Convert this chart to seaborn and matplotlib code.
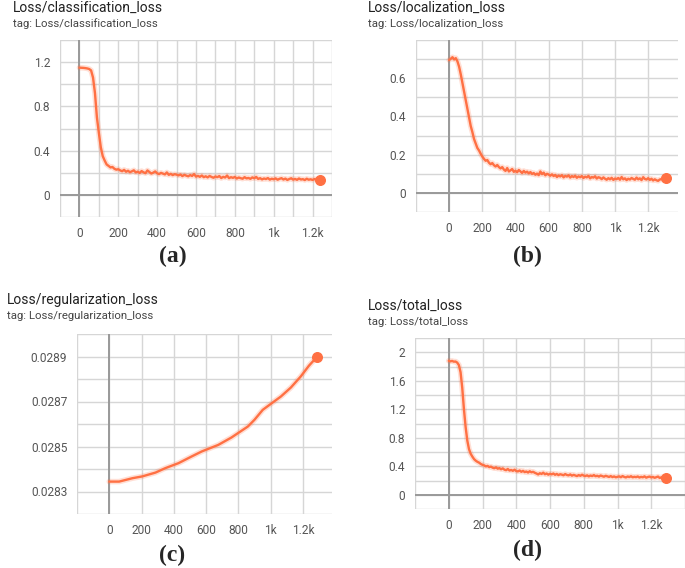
import numpy as np
import matplotlib.pyplot as plt
import seaborn as sns

# TensorBoard scalar curves
cls_steps = list(range(0, 1250, 10))
cls_loss = [
    1.150, 1.149, 1.148, 1.146, 1.143, 1.138, 1.125,
    1.06, 0.92, 0.70, 0.56, 0.43, 0.35, 0.31,
    0.275, 0.262, 0.248, 0.252, 0.236, 0.228, 0.232,
    0.221, 0.214, 0.226, 0.209, 0.218, 0.205, 0.213, 0.222, 0.203, 0.210,
    0.198, 0.215, 0.204, 0.196, 0.221, 0.207, 0.193, 0.201, 0.212, 0.195,
    0.188, 0.199, 0.192, 0.185, 0.203, 0.181, 0.190, 0.179, 0.187, 0.183,
    0.176, 0.184, 0.170, 0.181, 0.174, 0.168, 0.179, 0.171, 0.188, 0.165,
    0.172, 0.163, 0.175, 0.160, 0.168, 0.158, 0.171, 0.162, 0.155, 0.166,
    0.160, 0.170, 0.152, 0.163, 0.157, 0.175, 0.151, 0.160, 0.154, 0.162,
    0.148, 0.157, 0.151, 0.146, 0.160, 0.149, 0.153, 0.145, 0.158, 0.150,
    0.162, 0.144, 0.151, 0.140, 0.148, 0.143, 0.152, 0.138, 0.146, 0.141,
    0.149, 0.137, 0.145, 0.151, 0.139, 0.147, 0.135, 0.143, 0.150, 0.138,
    0.144, 0.136, 0.148, 0.139, 0.142, 0.134, 0.146, 0.137, 0.141, 0.135,
    0.143, 0.136, 0.140, 0.138,
]

loc_steps = list(range(0, 1320, 10))
loc_loss = [
    0.695, 0.702, 0.710, 0.698, 0.705, 0.688, 0.660,
    0.620, 0.575, 0.530, 0.485, 0.440, 0.395, 0.350,
    0.318, 0.282, 0.258, 0.235, 0.222, 0.205, 0.190,
    0.178, 0.168, 0.172, 0.158, 0.150, 0.156, 0.145, 0.138, 0.146, 0.135,
    0.128, 0.135, 0.122, 0.115, 0.130, 0.112, 0.118, 0.125, 0.110, 0.116,
    0.108, 0.120, 0.112, 0.104, 0.115, 0.106, 0.111, 0.102, 0.109, 0.099,
    0.104, 0.095, 0.101, 0.093, 0.112, 0.098, 0.106, 0.092, 0.100, 0.096,
    0.090, 0.097, 0.088, 0.094, 0.083, 0.091, 0.086, 0.093, 0.081, 0.089,
    0.085, 0.092, 0.080, 0.088, 0.083, 0.090, 0.079, 0.086, 0.082, 0.088,
    0.078, 0.085, 0.081, 0.089, 0.076, 0.083, 0.080, 0.087, 0.075, 0.082,
    0.079, 0.072, 0.081, 0.074, 0.069, 0.077, 0.071, 0.079, 0.068, 0.075,
    0.072, 0.078, 0.069, 0.083, 0.071, 0.076, 0.067, 0.074, 0.070, 0.078,
    0.073, 0.069, 0.080, 0.071, 0.076, 0.067, 0.082, 0.073, 0.070, 0.077,
    0.068, 0.074, 0.065, 0.071, 0.066, 0.063, 0.070, 0.072, 0.068, 0.075, 0.078,
]

reg_steps = [0, 61, 143, 204, 286, 348, 429, 511, 573, 675, 757, 859,
             900, 951, 1002, 1063, 1125, 1186, 1237, 1284]
reg_loss = [0.028344, 0.028344, 0.028359, 0.028367, 0.028384, 0.028404,
            0.028426, 0.028456, 0.028478, 0.028507, 0.028540, 0.028589,
            0.028619, 0.028663, 0.028690, 0.028722, 0.028762, 0.028811,
            0.028859, 0.028896]

tot_steps = list(range(0, 1300, 10))
tot_loss = [
    1.880, 1.872, 1.878, 1.868, 1.870, 1.855, 1.820,
    1.720, 1.500, 1.200, 0.950, 0.760, 0.640, 0.575,
    0.535, 0.500, 0.478, 0.462, 0.450, 0.432, 0.420,
    0.412, 0.398, 0.405, 0.388, 0.395, 0.380, 0.372, 0.385, 0.366, 0.374,
    0.358, 0.370, 0.352, 0.345, 0.362, 0.340, 0.348, 0.336, 0.352, 0.332,
    0.328, 0.340, 0.322, 0.335, 0.318, 0.326, 0.312, 0.330, 0.315, 0.322,
    0.308, 0.298, 0.285, 0.302, 0.292, 0.310, 0.288, 0.298, 0.282, 0.295,
    0.286, 0.298, 0.280, 0.292, 0.276, 0.288, 0.282, 0.274, 0.290, 0.278,
    0.272, 0.285, 0.268, 0.279, 0.270, 0.262, 0.276, 0.266, 0.281, 0.268,
    0.263, 0.272, 0.258, 0.270, 0.262, 0.276, 0.260, 0.267, 0.255, 0.270,
    0.262, 0.253, 0.266, 0.258, 0.250, 0.262, 0.248, 0.257, 0.245, 0.252,
    0.258, 0.246, 0.262, 0.250, 0.243, 0.256, 0.248, 0.260, 0.245, 0.252,
    0.247, 0.256, 0.242, 0.251, 0.245, 0.258, 0.240, 0.249, 0.255, 0.243,
    0.250, 0.238, 0.247, 0.255, 0.236, 0.244, 0.252, 0.240, 0.232,
]

x_labels = {0: "0", 200: "200", 400: "400", 600: "600", 800: "800",
            1000: "1k", 1200: "1.2k"}

ORANGE = "#ff7043"
W, H = 685, 568

sns.set_style("white")
plt.rcParams['font.family'] = ['Roboto', 'DejaVu Sans']

fig = plt.figure(figsize=(W / 100, H / 100), dpi=100)


def px(x, y):
    return x / W, 1 - y / H


def panel(l, t, r, b, steps, vals, xlim, xstep, ylim, ystep, ylab, yfmt,
          name, title_xy, letter, letter_xy, zero_h=True):
    ax = fig.add_axes([l / W, 1 - b / H, (r - l) / W, (b - t) / H])
    # faint raw band + smoothed line, TensorBoard style
    sns.lineplot(x=steps, y=vals, ax=ax, color=ORANGE, lw=4, alpha=0.22)
    sns.lineplot(x=steps, y=vals, ax=ax, color=ORANGE, lw=1.7)
    ax.scatter([steps[-1]], [vals[-1]], s=48, color=ORANGE, zorder=5)

    xt = np.arange(xlim[0], xlim[1] + 1, xstep)
    ax.set_xticks(xt)
    ax.set_xticklabels([x_labels.get(int(v), "") for v in xt])
    yt = np.round(np.arange(ylim[0], ylim[1] + ystep / 2, ystep), 6)
    ax.set_yticks(yt)
    ax.set_yticklabels([yfmt(v) if any(abs(v - w) < ystep / 10 for w in ylab)
                        else "" for v in yt])
    ax.set_xlim(xlim)
    ax.set_ylim(ylim)
    ax.grid(True, color="#d6d6d6", lw=1.0)
    for s in ax.spines.values():
        s.set_visible(False)
    ax.axvline(0, color="#999999", lw=1.4, zorder=1)
    if zero_h:
        ax.axhline(0, color="#999999", lw=1.4, zorder=1)
    ax.tick_params(axis="x", length=3, color="#cccccc", labelsize=8.6,
                   labelcolor="#555555", pad=4)
    ax.tick_params(axis="y", length=0, labelsize=8.6, labelcolor="#555555",
                   pad=7)
    ax.set_xlabel("")
    ax.set_ylabel("")

    fig.text(*px(*title_xy), name, fontsize=10, color="#212121",
             ha="left", va="center")
    fig.text(*px(title_xy[0], title_xy[1] + 16), "tag: " + name, fontsize=8.2,
             color="#444444", ha="left", va="center")
    fig.text(*px(*letter_xy), letter, fontsize=17, fontweight="bold",
             family="Liberation Serif", ha="center", va="center")
    return ax


def fmt_short(v):
    return "0" if abs(v) < 1e-9 else ("%g" % v)


panel(60, 40, 332, 217, cls_steps, cls_loss, (-100, 1300), 100,
      (-0.2, 1.4), 0.2, [0, 0.4, 0.8, 1.2], fmt_short,
      "Loss/classification_loss", (13, 8), "(a)", (173, 256))

panel(416, 40, 678, 212, loc_steps, loc_loss, (-200, 1380), 200,
      (-0.1, 0.8), 0.1, [0, 0.2, 0.4, 0.6], fmt_short,
      "Loss/localization_loss", (368, 8), "(b)", (527, 256))

panel(77, 334, 332, 514, reg_steps, reg_loss, (-200, 1380), 200,
      (0.0282, 0.0290), 0.0001, [0.0283, 0.0285, 0.0287, 0.0289],
      lambda v: "%.4f" % v,
      "Loss/regularization_loss", (7, 300), "(c)", (172, 555), zero_h=False)

panel(415, 338, 685, 509, tot_steps, tot_loss, (-200, 1400), 200,
      (-0.2, 2.2), 0.2, [0, 0.4, 0.8, 1.2, 1.6, 2.0], fmt_short,
      "Loss/total_loss", (368, 306), "(d)", (527, 550))

fig.savefig("out.png", dpi=100, facecolor="white")
plt.close(fig)
